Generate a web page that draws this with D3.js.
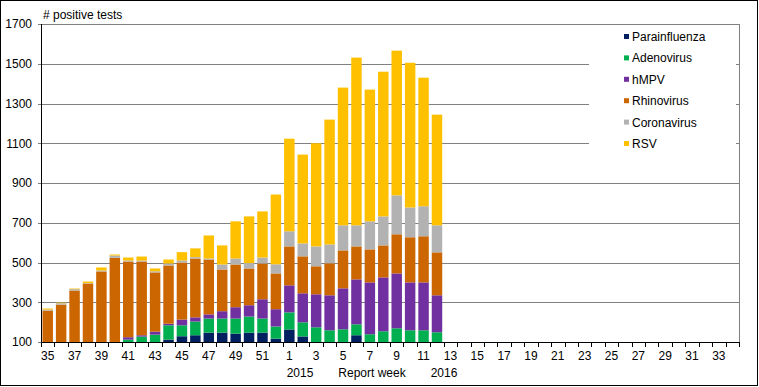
<!DOCTYPE html>
<html>
<head>
<meta charset="utf-8">
<script src="https://cdn.jsdelivr.net/npm/d3@7"></script>
<style>
  body { margin: 0; background: #fff; }
  svg { display: block; font-family: "Liberation Sans", Arial, sans-serif; }
  .axis text { font-size: 12px; fill: #000; }
  .axis path, .axis line { stroke: #000; }
</style>
</head>
<body>
<svg width="759" height="387"></svg>
<script>
// report weeks: 2014 season weeks 35-52, then 1-34
var weeks = d3.range(35, 53).concat(d3.range(1, 35)).map(String);

var series = ["Parainfluenza", "Adenovirus", "hMPV", "Rhinovirus", "Coronavirus", "RSV"];
var colors = ["#002060", "#00B050", "#7030A0", "#CC6600", "#B2B2B2", "#FFC000"];

// weekly counts (weeks 35..52, 1..12)
var parainfluenza = [40, 45, 50, 55, 55, 60, 65, 75, 85, 112, 129, 134, 147, 147, 142, 147, 147, 117, 163, 128, 90, 85, 95, 134, 80, 75, 70, 65, 60, 55];
var adenovirus = [30, 27, 25, 23, 25, 25, 47, 52, 52, 72, 55, 69, 71, 71, 76, 81, 71, 61, 86, 71, 84, 74, 69, 55, 59, 79, 99, 94, 99, 94];
var hmpv = [10, 10, 10, 10, 10, 10, 12, 7, 15, 8, 29, 21, 21, 37, 57, 57, 97, 87, 136, 146, 166, 176, 206, 226, 261, 271, 276, 241, 241, 186];
var rhinovirus = [178, 206, 274, 306, 365, 429, 381, 371, 298, 293, 287, 296, 276, 210, 215, 185, 180, 180, 196, 186, 141, 161, 191, 166, 166, 161, 197, 227, 232, 216];
var coronavirus = [5, 7, 7, 2, 5, 11, 5, 5, 6, 10, 10, 7, 5, 25, 30, 27, 30, 46, 76, 65, 100, 95, 126, 106, 141, 146, 196, 150, 151, 136];
var rsv = [5, 3, 3, 8, 15, 5, 15, 20, 14, 20, 42, 44, 116, 96, 187, 235, 232, 351, 466, 447, 519, 628, 693, 844, 663, 728, 728, 728, 647, 557];

var yTicks = d3.range(100, 1701, 200);

var svg = d3.select("svg"),
    margin = {top: 24, right: 20, bottom: 45, left: 41},
    width = +svg.attr("width") - margin.left - margin.right,
    height = +svg.attr("height") - margin.top - margin.bottom;

var table = parainfluenza.map(function(d, i) {
  return {
    week: weeks[i],
    Parainfluenza: d,
    Adenovirus: adenovirus[i],
    hMPV: hmpv[i],
    Rhinovirus: rhinovirus[i],
    Coronavirus: coronavirus[i],
    RSV: rsv[i]
  };
});

var stacked = d3.stack().keys(series)(table);

var pad = 0.22;
var x = d3.scaleBand().domain(weeks).range([0, width]).paddingInner(pad).paddingOuter(pad / 2);
var y = d3.scaleLinear().domain([100, 1700]).range([height, 0]).clamp(true);
var step = x.step();

svg.append("rect")
    .attr("x", 0.5).attr("y", 0.5)
    .attr("width", 757).attr("height", 385)
    .attr("fill", "#fff").attr("stroke", "#000");

var g = svg.append("g")
    .attr("transform", "translate(" + margin.left + "," + margin.top + ")");

// gridlines
g.append("g")
    .selectAll("line")
    .data(yTicks)
    .enter().append("line")
    .attr("x1", -3).attr("x2", width)
    .attr("y1", function(d) { return Math.round(y(d)) + 0.5; })
    .attr("y2", function(d) { return Math.round(y(d)) + 0.5; })
    .attr("stroke", "#808080");

g.append("line")
    .attr("x1", width + 0.5).attr("x2", width + 0.5)
    .attr("y1", 0).attr("y2", height)
    .attr("stroke", "#808080");

// bars
g.append("g")
  .selectAll("g")
  .data(stacked)
  .enter().append("g")
    .attr("fill", function(d, i) { return colors[i]; })
  .selectAll("rect")
  .data(function(d) { return d; })
  .enter().append("rect")
    .attr("x", function(d) { return x(d.data.week); })
    .attr("width", x.bandwidth())
    .attr("y", function(d) { return y(d[1]); })
    .attr("height", function(d) { return y(d[0]) - y(d[1]); });

// y axis
g.append("g")
    .attr("class", "axis")
    .call(d3.axisLeft(y).tickValues(yTicks).tickFormat(d3.format("d"))
      .tickSize(0).tickPadding(9).tickSizeOuter(0))
    .call(function(a) { a.select(".domain").attr("d", "M0.5," + height + "V0"); });

// x axis: labels every second week, ticks on category borders
var xAxis = g.append("g")
    .attr("class", "axis")
    .attr("transform", "translate(0," + height + ")")
    .call(d3.axisBottom(x)
      .tickValues(weeks.filter(function(d, i) { return i % 2 === 0; }))
      .tickSize(0).tickPadding(9).tickSizeOuter(0));

xAxis.select(".domain").attr("d", "M0," + 0.5 + "H" + (width + 1));

xAxis.selectAll(".border")
    .data(d3.range(weeks.length + 1))
    .enter().append("line")
    .attr("class", "border")
    .attr("x1", function(i) { return Math.round(i * step) + 0.5; })
    .attr("x2", function(i) { return Math.round(i * step) + 0.5; })
    .attr("y1", 0).attr("y2", 5)
    .attr("stroke", "#000");

// axis captions
svg.append("text")
    .attr("x", 43).attr("y", 19)
    .attr("font-size", 12)
    .text("# positive tests");

svg.selectAll(".cap")
    .data([["2015", 300], ["Report week", 372], ["2016", 444]])
    .enter().append("text")
    .attr("class", "cap")
    .attr("x", function(d) { return d[1]; })
    .attr("y", 377)
    .attr("text-anchor", "middle")
    .attr("font-size", 12)
    .text(function(d) { return d[0]; });

// legend
var legend = svg.append("g");

legend.append("rect")
    .attr("x", 589).attr("y", 28)
    .attr("width", 147).attr("height", 142)
    .attr("fill", "#fff");

var item = legend.selectAll(".item")
    .data(series)
    .enter().append("g")
    .attr("class", "item")
    .attr("transform", function(d, i) { return "translate(624," + (34 + i * 21.4) + ")"; });

item.append("rect")
    .attr("width", 5).attr("height", 5)
    .attr("fill", function(d, i) { return colors[i]; });

item.append("text")
    .attr("x", 8).attr("y", 7)
    .attr("font-size", 12)
    .text(function(d) { return d; });
</script>
</body>
</html>
